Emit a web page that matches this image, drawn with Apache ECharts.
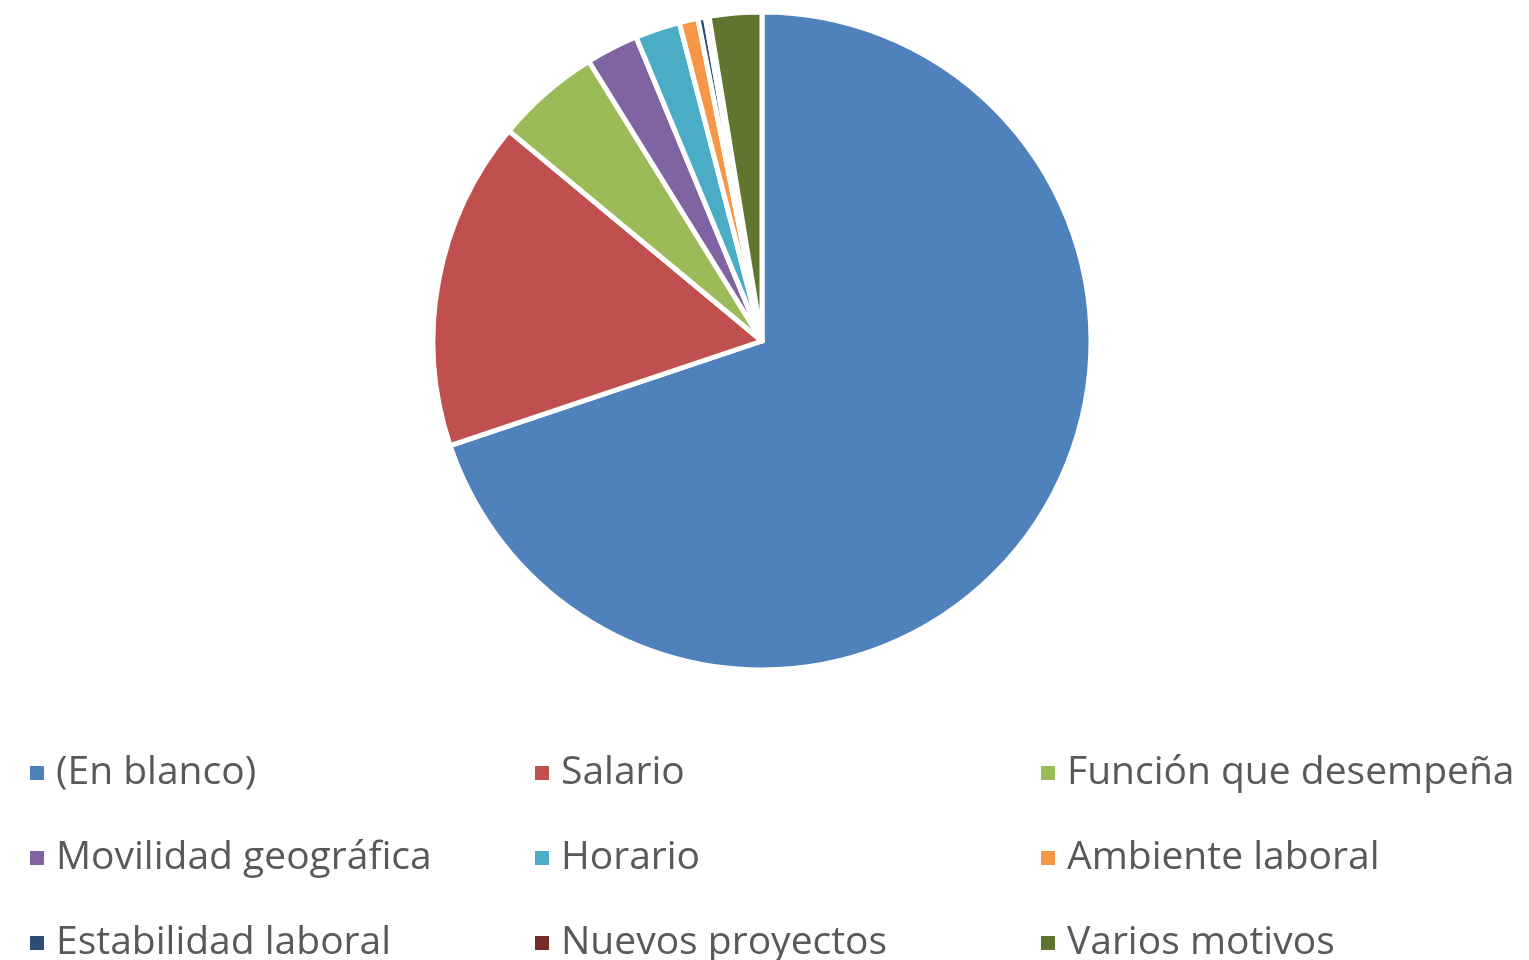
<!DOCTYPE html>
<html>
<head>
<meta charset="utf-8">
<title>Motivos</title>
<script src="https://cdn.jsdelivr.net/npm/echarts@6/dist/echarts.min.js"></script>
<style>
  html, body { margin: 0; padding: 0; background: #fff; }
  #chart { width: 1529px; height: 960px; }
</style>
</head>
<body>
<div id="chart"></div>
<script>
const categories = [
  "(En blanco)", "Salario", "Función que desempeña",
  "Movilidad geográfica", "Horario", "Ambiente laboral",
  "Estabilidad laboral", "Nuevos proyectos", "Varios motivos"
];
const values = [380, 88, 28, 14, 12, 5, 2, 1, 14];
const colors = [
  "#4F81BD", "#C0504D", "#9BBB59",
  "#8064A2", "#4BACC6", "#F79646",
  "#2C4D75", "#772C2A", "#5F7530"
];

// legend columns (3 rows each, read across like Excel)
const legendColumns = [
  [categories[0], categories[3], categories[6]],
  [categories[1], categories[4], categories[7]],
  [categories[2], categories[5], categories[8]]
];
const legendLefts = [23, 528, 1034];

const chart = echarts.init(document.getElementById("chart"), null, { renderer: "canvas" });

chart.setOption({
  animation: false,
  backgroundColor: "#ffffff",
  color: colors,
  legend: legendColumns.map((data, i) => ({
    data,
    orient: "vertical",
    left: legendLefts[i],
    top: 748,
    height: 400,
    icon: "rect",
    itemWidth: 16,
    itemHeight: 16,
    itemGap: 45,
    selectedMode: false,
    textStyle: {
      color: "#595959",
      fontFamily: "Open Sans",
      fontSize: 39,
      lineHeight: 40,
      padding: [0, 0, 0, 6]
    }
  })),
  series: [
    {
      type: "pie",
      center: [762, 341],
      radius: 329,
      startAngle: 90,
      clockwise: true,
      label: { show: false },
      labelLine: { show: false },
      itemStyle: { borderColor: "#ffffff", borderWidth: 5 },
      emphasis: { disabled: true },
      data: categories.map((name, i) => ({ name, value: values[i] }))
    }
  ]
});
</script>
</body>
</html>
